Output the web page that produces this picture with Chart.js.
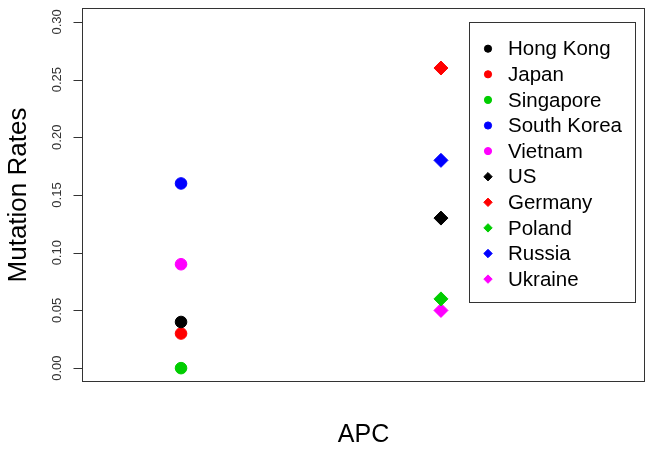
<!DOCTYPE html>
<html>
<head>
<meta charset="utf-8">
<script src="https://cdn.jsdelivr.net/npm/chart.js@4/dist/chart.umd.min.js"></script>
<style>
  html, body { margin: 0; padding: 0; background: #fff; }
  #wrap { width: 654px; height: 455px; }
</style>
</head>
<body>
<div id="wrap"><canvas id="chartRates"></canvas></div>
<script>
// data
const countries = ["Hong Kong", "Japan", "Singapore", "South Korea", "Vietnam", "US", "Germany", "Poland", "Russia", "Ukraine"];
const groupX = [1, 1, 1, 1, 1, 2, 2, 2, 2, 2];
const rates = [0.04, 0.03, 0.00, 0.16, 0.09, 0.13, 0.26, 0.06, 0.18, 0.05];
const yTicks = [0, 0.05, 0.10, 0.15, 0.20, 0.25, 0.30];

// styles
const colors = ["#000000", "#ff0000", "#00cd00", "#0000ff", "#ff00ff", "#000000", "#ff0000", "#00cd00", "#0000ff", "#ff00ff"];
const shapes = ["circle", "circle", "circle", "circle", "circle", "rectRot", "rectRot", "rectRot", "rectRot", "rectRot"];

Chart.defaults.font.family = "'Liberation Sans', Arial, sans-serif";

const datasets = countries.map((c, i) => ({
    label: c,
    data: [{ x: groupX[i], y: rates[i] }],
    backgroundColor: colors[i],
    borderColor: colors[i],
    borderWidth: 1,
    pointStyle: shapes[i],
    pointRadius: shapes[i] === "circle" ? 5.8 : 7
}));

// box round the plot region + the y tick marks
const plotFrame = {
    id: "plotFrame",
    beforeDatasetsDraw(chart) {
        const { ctx, chartArea } = chart;
        const yScale = chart.scales.y;
        ctx.save();
        ctx.strokeStyle = "#333";
        ctx.lineWidth = 1;
        const left = Math.round(chartArea.left) + 0.5;
        ctx.strokeRect(left, Math.round(chartArea.top) + 0.5,
            Math.round(chartArea.right - chartArea.left) - 1, Math.round(chartArea.bottom - chartArea.top) - 1);
        ctx.beginPath();
        yTicks.forEach(v => {
            const py = Math.round(yScale.getPixelForValue(v)) + 0.5;
            ctx.moveTo(left - 9, py);
            ctx.lineTo(left, py);
        });
        ctx.stroke();
        ctx.restore();
    }
};

// legend box in the top right corner, like R's legend("topright")
const legendBox = {
    id: "legendBox",
    afterDraw(chart) {
        const { ctx, chartArea } = chart;
        const w = 166, h = 280;
        const x0 = Math.round(chartArea.right - 10 - w);
        const y0 = Math.round(chartArea.top + 14);
        ctx.save();
        ctx.fillStyle = "#fff";
        ctx.fillRect(x0, y0, w, h);
        ctx.strokeStyle = "#333";
        ctx.lineWidth = 1;
        ctx.strokeRect(x0 + 0.5, y0 + 0.5, w, h);
        chart.data.datasets.forEach((ds, i) => {
            const y = y0 + 26.7 + i * 25.6;
            ctx.fillStyle = ds.backgroundColor;
            ctx.strokeStyle = ds.borderColor;
            ctx.lineWidth = 1;
            Chart.helpers.drawPoint(ctx, {
                pointStyle: ds.pointStyle,
                radius: ds.pointStyle === "circle" ? 3.6 : 4.2,
                borderWidth: 1,
                rotation: 0
            }, x0 + 19, y);
            ctx.fillStyle = "#000";
            ctx.font = "20.5px 'Liberation Sans', Arial, sans-serif";
            ctx.textAlign = "left";
            ctx.textBaseline = "middle";
            ctx.fillText(ds.label, x0 + 39, y + 1);
        });
        ctx.restore();
    }
};

new Chart(document.getElementById("chartRates"), {
    type: "scatter",
    data: { datasets: datasets },
    options: {
        responsive: true,
        maintainAspectRatio: false,
        animation: false,
        layout: { padding: { top: 7, right: 9, left: 0, bottom: 0 } },
        plugins: {
            legend: { display: false },
            tooltip: { enabled: false }
        },
        scales: {
            x: {
                type: "linear",
                min: 0.619,
                max: 2.785,
                border: { display: false },
                grid: { display: false },
                ticks: { display: false },
                title: {
                    display: true,
                    text: "APC",
                    color: "#000",
                    font: { size: 25 },
                    padding: { top: 0, bottom: 5 }
                },
                afterFit(scale) {
                    scale.height = 73;
                    scale.paddingLeft = 0;
                    scale.paddingRight = 0;
                }
            },
            y: {
                type: "linear",
                min: -0.012,
                max: 0.312,
                border: { display: false },
                grid: { display: false },
                afterBuildTicks(scale) {
                    scale.ticks = yTicks.map(v => ({ value: v }));
                },
                ticks: {
                    minRotation: 90,
                    maxRotation: 90,
                    crossAlign: "center",
                    padding: 4,
                    color: "#333",
                    font: { size: 13 },
                    callback: v => v.toFixed(2)
                },
                title: {
                    display: true,
                    text: "Mutation Rates",
                    color: "#000",
                    font: { size: 26 },
                    padding: { top: 3, bottom: 0 }
                },
                afterFit(scale) {
                    scale.width = 82;
                    scale.paddingTop = 0;
                    scale.paddingBottom = 0;
                }
            }
        }
    },
    plugins: [plotFrame, legendBox]
});
</script>
</body>
</html>
